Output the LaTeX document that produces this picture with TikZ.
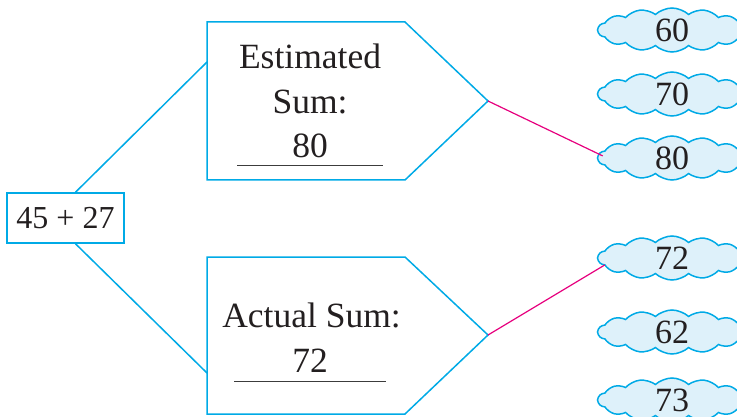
\documentclass[tikz,border=0pt]{standalone}
\usepackage{fontspec}
\setmainfont{Liberation Serif}
\usetikzlibrary{shapes.symbols,calc}
\definecolor{cyanline}{RGB}{0,170,230}
\definecolor{cloudfill}{RGB}{222,241,250}
\definecolor{pinkline}{RGB}{230,0,126}
\definecolor{ulgray}{RGB}{60,60,60}
\definecolor{ink}{RGB}{35,31,32}
\tikzset{
  outline/.style={draw=cyanline, line width=1.5pt},
  link/.style={draw=pinkline, line width=1.2pt},
  bubble/.style={cloud, cloud puffs=14, cloud puff arc=85, aspect=3.3, draw=cyanline, fill=cloudfill,
    line width=1.5pt, minimum width=148pt, minimum height=44pt, inner sep=0pt,
    font=\fontsize{34}{36}\selectfont, text=ink},
  bigtext/.style={font=\fontsize{35.5}{45}\selectfont, text=ink, inner sep=0pt, anchor=base},
  uline/.style={draw=ulgray, line width=1pt}
}
\begin{document}
\begin{tikzpicture}[x=1pt,y=-1pt]
\useasboundingbox (0,0) rectangle (737,417);
% start box
\node[outline, rectangle, minimum width=117pt, minimum height=50pt, inner sep=0pt,
  font=\fontsize{32}{36}\selectfont, text=ink] (sum) at (65.5,218) {45 + 27};
% estimated pentagon
\coordinate (eTL) at (207,22);
\coordinate (eTR) at (405,22);
\coordinate (eTip) at (488,101);
\coordinate (eBR) at (405,180);
\coordinate (eBL) at (207,180);
\coordinate (eIn) at (207,62);
\draw[outline, line join=miter] (eTL) -- (eTR) -- (eTip) -- (eBR) -- (eBL) -- cycle;
\node[bigtext] (e1) at (310,69) {Estimated};
\node[bigtext] (e2) at (310,114) {Sum:};
\node[bigtext] (e3) at (310,158) {80};
\coordinate (u1a) at (237,166);
\coordinate (u1b) at (383,166);
\draw[uline] (u1a) -- (u1b);
% actual pentagon
\coordinate (aTL) at (207,257);
\coordinate (aTR) at (405,257);
\coordinate (aTip) at (488,335);
\coordinate (aBR) at (405,414);
\coordinate (aBL) at (207,414);
\coordinate (aIn) at (207,373);
\draw[outline, line join=miter] (aTL) -- (aTR) -- (aTip) -- (aBR) -- (aBL) -- cycle;
\node[bigtext] (a1) at (311.5,327) {Actual Sum:};
\node[bigtext] (a2) at (310,372) {72};
\coordinate (u2a) at (234,381);
\coordinate (u2b) at (386,381);
\draw[uline] (u2a) -- (u2b);
% connectors from start box
\draw[outline] ($(sum.north)+(10,0)$) -- (eIn);
\draw[outline] ($(sum.south)+(10,0)$) -- (aIn);
% clouds
\node[bubble] (c60) at (672,30) {60};
\node[bubble] (c70) at (672,94) {70};
\node[bubble] (c80) at (672,158) {80};
\node[bubble] (c72) at (672,258) {72};
\node[bubble] (c62) at (672,332) {62};
\node[bubble] (c73) at (672,400) {73};
% answers
\draw[link] (eTip) -- ($(c80.west)+(6,-2)$);
\draw[link] (aTip) -- ($(c72.west)+(8,7)$);
\end{tikzpicture}
\end{document}
